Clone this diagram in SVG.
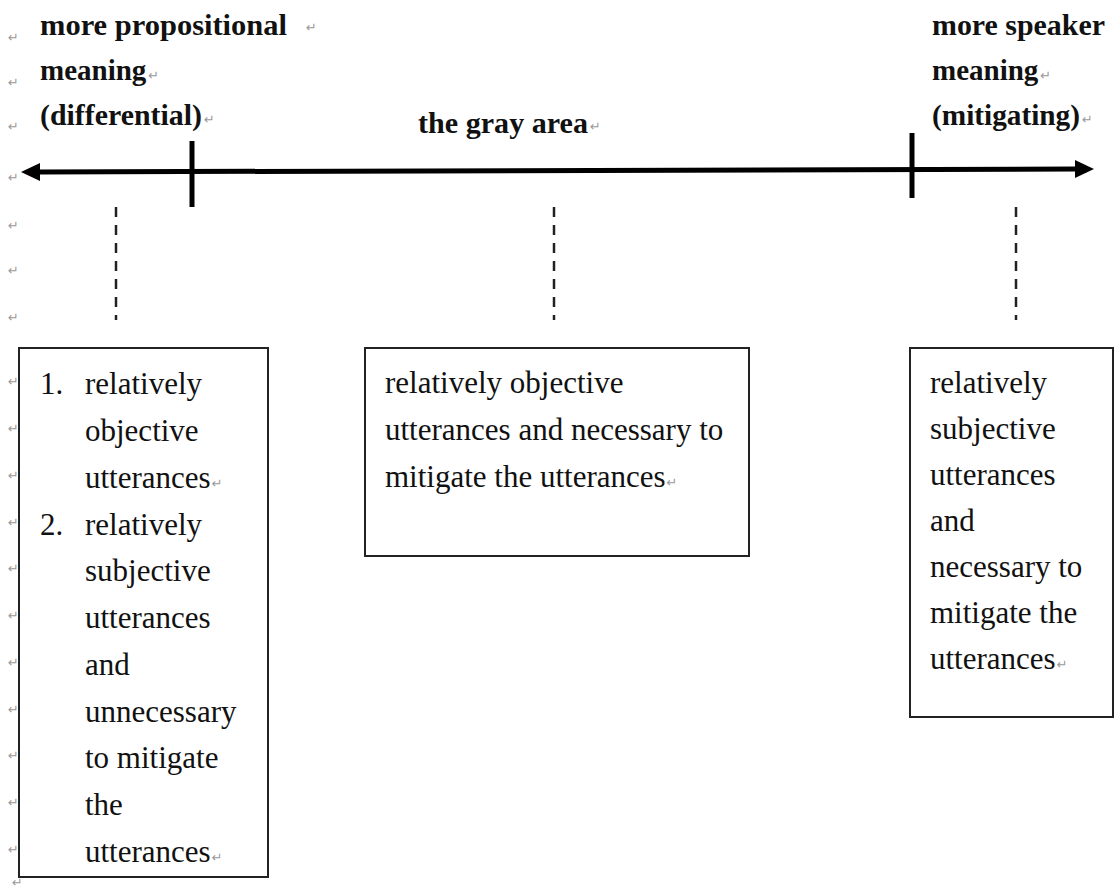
<svg xmlns="http://www.w3.org/2000/svg" width="1116" height="888" viewBox="0 0 1116 888">
  <style>
    .hd { font-family: "Liberation Serif", "Times New Roman", serif; font-weight: bold; font-size: 29px; fill: #111; }
    .tx { font-family: "Liberation Serif", "Times New Roman", serif; font-size: 31px; fill: #111; }
    .pm { font-family: "DejaVu Sans", sans-serif; font-size: 13px; fill: #9a9a9a; font-weight: normal; }
    .box { fill: #fff; stroke: #222; stroke-width: 2; }
    .axis { stroke: #000; stroke-width: 5; fill: none; }
    .tick { stroke: #000; stroke-width: 5; }
    .dash { stroke: #222; stroke-width: 2.5; stroke-dasharray: 10 8; }
  </style>
  <defs>
    <marker id="head" markerUnits="userSpaceOnUse" markerWidth="20" markerHeight="20" refX="0" refY="9" orient="auto-start-reverse" viewBox="0 0 20 18">
      <path d="M0,0 L19,9 L0,18 z" fill="#000"/>
    </marker>
  </defs>
  <rect width="1116" height="888" fill="#fff"/>

  <!-- paragraph marks in the left margin -->
  <g id="margin-marks" class="pm">
    <text x="8" y="42">↵</text>
    <text x="8" y="87">↵</text>
    <text x="8" y="131">↵</text>
    <text x="8" y="182">↵</text>
    <text x="8" y="230">↵</text>
    <text x="8" y="275">↵</text>
    <text x="8" y="322">↵</text>
    <text x="8" y="386">↵</text>
    <text x="8" y="433">↵</text>
    <text x="8" y="480">↵</text>
    <text x="8" y="527">↵</text>
    <text x="8" y="573">↵</text>
    <text x="8" y="620">↵</text>
    <text x="8" y="667">↵</text>
    <text x="8" y="714">↵</text>
    <text x="8" y="760">↵</text>
    <text x="8" y="807">↵</text>
    <text x="8" y="854">↵</text>
    <text x="12" y="887">↵</text>
  </g>

  <!-- end labels and middle label -->
  <g id="label-propositional">
    <text class="hd" x="40" y="35" textLength="247" lengthAdjust="spacingAndGlyphs">more propositional</text>
    <text class="pm" x="306" y="32">↵</text>
    <text class="hd" x="40" y="80">meaning<tspan class="pm" dx="2">↵</tspan></text>
    <text class="hd" x="40" y="125" textLength="162" lengthAdjust="spacingAndGlyphs">(differential)</text>
    <text class="pm" x="204" y="124">↵</text>
  </g>
  <g id="label-speaker">
    <text class="hd" x="932" y="35" textLength="173" lengthAdjust="spacingAndGlyphs">more speaker</text>
    <text class="hd" x="932" y="80">meaning<tspan class="pm" dx="2">↵</tspan></text>
    <text class="hd" x="932" y="125" textLength="148" lengthAdjust="spacingAndGlyphs">(mitigating)</text>
    <text class="pm" x="1082" y="124">↵</text>
  </g>
  <g id="label-gray-area">
    <text class="hd" x="418" y="133" textLength="170" lengthAdjust="spacingAndGlyphs">the gray area</text>
    <text class="pm" x="590" y="131">↵</text>
  </g>

  <!-- scale axis, tick marks and dashed drop lines -->
  <g id="connectors">
    <line class="axis" x1="40" y1="172" x2="1075" y2="169" marker-start="url(#head)" marker-end="url(#head)"/>
    <line class="tick" x1="192" y1="141" x2="192" y2="207"/>
    <line class="tick" x1="912" y1="133" x2="912" y2="198"/>
    <line class="dash" x1="116" y1="207" x2="116" y2="320"/>
    <line class="dash" x1="554" y1="207" x2="554" y2="320"/>
    <line class="dash" x1="1016" y1="207" x2="1016" y2="320"/>
  </g>

  <!-- left box -->
  <g id="box-left">
    <rect class="box" x="19" y="348" width="249" height="529"/>
    <text class="tx" x="40" y="394">1.</text>
    <text class="tx" x="40" y="535">2.</text>
    <g class="tx">
      <text x="85" y="394">relatively</text>
      <text x="85" y="441">objective</text>
      <text x="85" y="488">utterances<tspan class="pm" dx="1">↵</tspan></text>
      <text x="85" y="535">relatively</text>
      <text x="85" y="581">subjective</text>
      <text x="85" y="628">utterances</text>
      <text x="85" y="675">and</text>
      <text x="85" y="722">unnecessary</text>
      <text x="85" y="768">to mitigate</text>
      <text x="85" y="815">the</text>
      <text x="85" y="862">utterances<tspan class="pm" dx="1">↵</tspan></text>
    </g>
  </g>

  <!-- middle box -->
  <g id="box-middle">
    <rect class="box" x="365" y="348" width="384" height="208"/>
    <g class="tx">
      <text x="385" y="393">relatively objective</text>
      <text x="385" y="440">utterances and necessary to</text>
      <text x="385" y="487">mitigate the utterances<tspan class="pm" dx="1">↵</tspan></text>
    </g>
  </g>

  <!-- right box -->
  <g id="box-right">
    <rect class="box" x="910" y="348" width="203" height="369"/>
    <g class="tx">
      <text x="930" y="393">relatively</text>
      <text x="930" y="439">subjective</text>
      <text x="930" y="485">utterances</text>
      <text x="930" y="531">and</text>
      <text x="930" y="577">necessary to</text>
      <text x="930" y="623">mitigate the</text>
      <text x="930" y="669">utterances<tspan class="pm" dx="1">↵</tspan></text>
    </g>
  </g>
</svg>
